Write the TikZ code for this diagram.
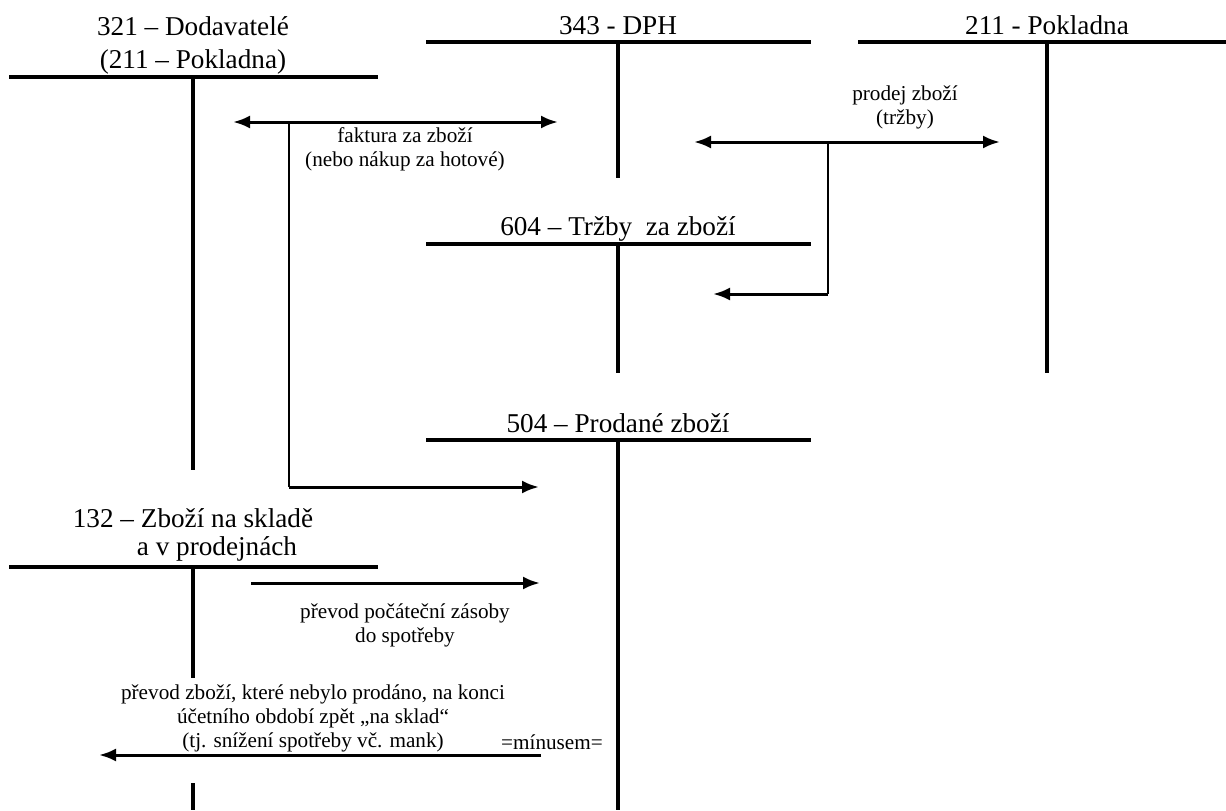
\documentclass[tikz,border=0pt]{standalone}
\usepackage{fontspec}
\setmainfont{Liberation Serif}
\usetikzlibrary{arrows.meta, positioning}

\begin{document}
\begin{tikzpicture}[
    x=0.5pt, y=-0.5pt,
    title/.style={font=\fontsize{13.6}{16.5}\selectfont, align=center, anchor=base, inner sep=0pt},
    note/.style={font=\fontsize{10.6}{12}\selectfont, align=center, inner sep=0pt},
    taccount/.style={line width=2pt},
    flow/.style={-{Latex[length=8.5pt,width=6.5pt]}, line width=1.5pt},
    twoway/.style={{Latex[length=8.5pt,width=6.5pt]}-{Latex[length=8.5pt,width=6.5pt]}, line width=1.5pt},
    branch/.style={line width=0.8pt}
]
    \useasboundingbox (0,0) rectangle (1226,810);

    % Account titles
    \node[title] (dodav) at (193,68) {321 – Dodavatelé\\(211 – Pokladna)};
    \node[title] (dph) at (618,34) {343 - DPH};
    \node[title] (pokl) at (1047,34) {211 - Pokladna};
    \node[title] (trzby) at (618,235) {604 – Tržby\ \ za zboží};
    \node[title] (prodane) at (618,432) {504 – Prodané zboží};
    \node[title, align=left, font=\fontsize{13.6}{14}\selectfont] (sklad) at (193,555)
        {132 – Zboží na skladě\\\hspace*{32pt}a v prodejnách};

    % T-accounts
    \draw[taccount] (9,77) -- (378,77) (193,77) -- (193,470);
    \draw[taccount] (426,42) -- (811,42) (618,42) -- (618,178);
    \draw[taccount] (858,42) -- (1226,42) (1047,42) -- (1047,373);
    \draw[taccount] (426,244) -- (811,244) (618,244) -- (618,373);
    \draw[taccount] (426,440) -- (811,440) (618,440) -- (618,810);
    \draw[taccount] (9,567) -- (378,567) (193,567) -- (193,678) (193,783) -- (193,810);

    % Arrow end points
    \coordinate (fak_l) at (233,122);
    \coordinate (fak_r) at (558,122);
    \coordinate (fak_b) at (289,122);
    \coordinate (fak_c) at (289,487);
    \coordinate (fak_e) at (539,487);
    \coordinate (pro_l) at (694,142);
    \coordinate (pro_r) at (1000,142);
    \coordinate (pro_b) at (828,142);
    \coordinate (pro_c) at (828,294);
    \coordinate (pro_e) at (713,294);
    \coordinate (poc_s) at (251,583);
    \coordinate (poc_e) at (540,583);
    \coordinate (zpet_s) at (541,755);
    \coordinate (zpet_e) at (99,755);

    % Labels
    \node[note] (faktura) at (405,149) {faktura za zboží\\(nebo nákup za hotové)};
    \node[note] (prodej) at (905,107) {prodej zboží\\(tržby)};
    \node[note] (pocatek) at (405,625) {převod počáteční zásoby\\do spotřeby};
    \node[note] (zpet) at (313,718) {převod zboží, které nebylo prodáno, na konci\\účetního období zpět „na sklad“\\(tj. snížení spotřeby vč. mank)};
    \node[note] (minus) at (552,742) {=mínusem=};

    % Arrows
    \draw[twoway] (fak_l) -- (fak_r);
    \draw[branch] (fak_b) -- (fak_c);
    \draw[flow] (fak_c) -- (fak_e);
    \draw[twoway] (pro_l) -- (pro_r);
    \draw[branch] (pro_b) -- (pro_c);
    \draw[flow] (pro_c) -- (pro_e);
    \draw[flow] (poc_s) -- (poc_e);
    \draw[flow] (zpet_s) -- (zpet_e);

\end{tikzpicture}
\end{document}
